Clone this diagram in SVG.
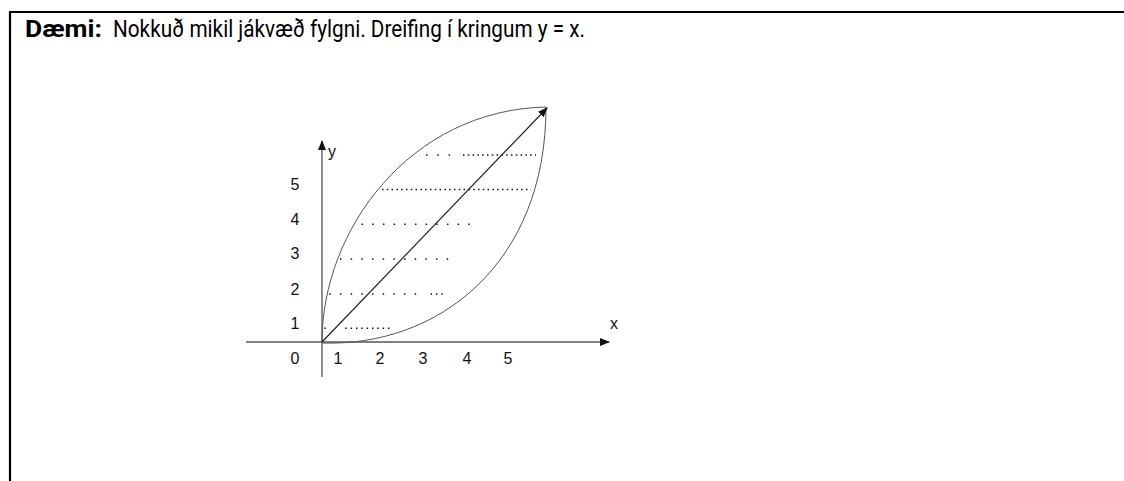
<svg xmlns="http://www.w3.org/2000/svg" width="1124" height="481" viewBox="0 0 1124 481">
<defs>
<style>
.title{font-family:Roboto,"DejaVu Sans",sans-serif;font-size:23px;fill:#000}
.lbl{font-family:"Liberation Sans",Arial,sans-serif;font-size:16px;fill:#111}
.axis{stroke:#555;stroke-width:1.3;fill:none}
.curve{stroke:#555;stroke-width:1;fill:none}
.dots{stroke:#111;stroke-width:1.6;fill:none}
</style>
<marker id="ah" markerWidth="10" markerHeight="10" refX="9" refY="5" orient="auto" markerUnits="userSpaceOnUse">
<path d="M0,1 L10,5 L0,9 Z" fill="#111"/>
</marker>
</defs>
<rect width="1124" height="481" fill="#fff"/>
<g id="frame" stroke="#000" stroke-width="2.2" fill="none">
<path d="M10,481 V12 H1124"/>
</g>
<g id="title">
<text class="title" x="25" y="37" font-weight="bold" textLength="77" lengthAdjust="spacingAndGlyphs">Dæmi:</text>
<text class="title" x="113" y="37" textLength="472" lengthAdjust="spacingAndGlyphs">Nokkuð mikil jákvæð fylgni. Dreifing í kringum y = x.</text>
</g>
<g id="axes">
<line class="axis" x1="322" y1="377" x2="322" y2="141" marker-end="url(#ah)"/>
<line class="axis" x1="246" y1="342" x2="609" y2="342" marker-end="url(#ah)"/>
</g>
<g id="curves">
<path class="curve" d="M322,342 C322,230 410,110 546,107"/>
<path class="curve" d="M322,343 C437,347 546,265 546,107"/>
<line stroke="#222" stroke-width="1.2" x1="322" y1="342" x2="547" y2="108" marker-end="url(#ah)"/>
</g>
<g id="dots">
<path class="dots" stroke-dasharray="1.5 9.8" d="M426,155 H451"/>
<path class="dots" stroke-dasharray="1.5 3.3" d="M463,155 H536"/>
<path class="dots" stroke-dasharray="1.5 3.3" d="M382,189.5 H531"/>
<path class="dots" stroke-dasharray="1.5 9.17" d="M361.6,224.3 H470"/>
<path class="dots" stroke-dasharray="1.5 9.17" d="M340,259 H449"/>
<path class="dots" stroke-dasharray="1.5 9.17" d="M329.3,294 H417"/>
<path class="dots" stroke-dasharray="1.5 3.8" d="M430.6,294 H444"/>
<path class="dots" d="M324.3,328.3 H325.8"/>
<path class="dots" stroke-dasharray="1.5 3.83" d="M345.3,328.3 H390"/>
</g>
<g id="labels">
<text class="lbl" x="295" y="189.5" text-anchor="middle">5</text>
<text class="lbl" x="295" y="225" text-anchor="middle">4</text>
<text class="lbl" x="295" y="259" text-anchor="middle">3</text>
<text class="lbl" x="295" y="295" text-anchor="middle">2</text>
<text class="lbl" x="295" y="329" text-anchor="middle">1</text>
<text class="lbl" x="295" y="363.5" text-anchor="middle">0</text>
<text class="lbl" x="338" y="363.5" text-anchor="middle">1</text>
<text class="lbl" x="380" y="363.5" text-anchor="middle">2</text>
<text class="lbl" x="423" y="363.5" text-anchor="middle">3</text>
<text class="lbl" x="467" y="363.5" text-anchor="middle">4</text>
<text class="lbl" x="508" y="363.5" text-anchor="middle">5</text>
<text class="lbl" x="614" y="329" text-anchor="middle" font-size="17">x</text>
<text class="lbl" x="332" y="157" text-anchor="middle" font-size="17">y</text>
</g>
</svg>
